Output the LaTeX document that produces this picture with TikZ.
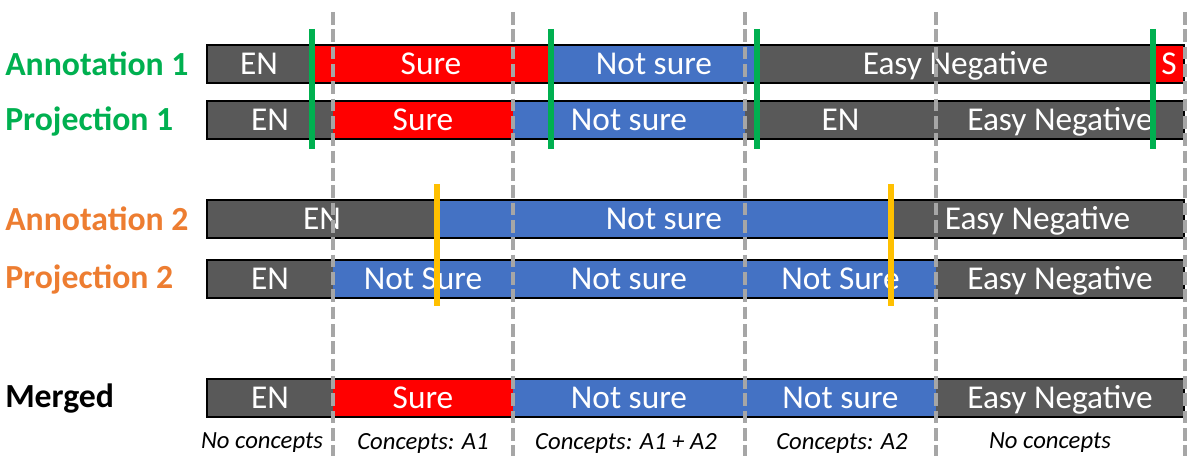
\documentclass[tikz,border=0pt]{standalone}
\usepackage{fontspec}
\setmainfont{Carlito}
\definecolor{engray}{HTML}{595959}
\definecolor{surered}{HTML}{FF0000}
\definecolor{nsblue}{HTML}{4472C4}
\definecolor{mgreen}{HTML}{00B050}
\definecolor{torange}{HTML}{ED7D31}
\definecolor{morange}{HTML}{FFC000}
\definecolor{dashgray}{HTML}{A6A6A6}
\tikzset{
  segbox/.style={inner sep=0pt, outer sep=0pt, text=white, font=\fontsize{25}{30}\selectfont, text height=16.2pt, text depth=0pt, align=center},
  barline/.style={draw=black, line width=1.9pt},
  sepline/.style={draw=dashgray, line width=2.8pt, dash pattern=on 9.5pt off 3.5pt},
  mark1/.style={draw=mgreen, line width=5pt},
  mark2/.style={draw=morange, line width=5pt},
  rowlabel/.style={anchor=west, inner sep=0pt, font=\fontsize{25.3}{30}\selectfont\bfseries},
  note/.style={inner sep=0pt, font=\fontsize{18.5}{22}\selectfont\itshape}
}
\newcommand\segm[7]{%
  \pgfmathsetmacro\segw{(#3-#2)*0.75}%
  \pgfmathsetmacro\segh{(#5-#4)*0.75}%
  \node[segbox, fill=#6, minimum width=\segw pt, minimum height=\segh pt, anchor=north west] (#1) at (#2,#4) {#7};}
\begin{document}
\begin{tikzpicture}[x=0.75pt,y=-0.75pt]
\useasboundingbox (0,0) rectangle (1196,467);
% row labels
\node[rowlabel, text=mgreen] (la1) at (5,64) {Annotation 1};
\node[rowlabel, text=mgreen] (lp1) at (5,121) {Projection 1};
\node[rowlabel, text=torange] (la2) at (5,219) {Annotation 2};
\node[rowlabel, text=torange] (lp2) at (5,279) {Projection 2};
\node[rowlabel, text=black] (lm) at (5,399) {Merged};
% Annotation 1
\segm{a1s1}{207}{311}{45}{83}{engray}{EN}
\segm{a1s2}{311}{551}{45}{83}{surered}{Sure}
\segm{a1s3}{551}{757}{45}{83}{nsblue}{Not sure}
\segm{a1s4}{757}{1154}{45}{83}{engray}{Easy Negative}
\segm{a1s5}{1154}{1184}{45}{83}{surered}{S}
\draw[barline] (a1s1.north west) rectangle (a1s5.south east);
% Projection 1
\segm{p1s1}{207}{333}{101}{139}{engray}{EN}
\segm{p1s2}{333}{513}{101}{139}{surered}{Sure}
\segm{p1s3}{513}{745}{101}{139}{nsblue}{Not sure}
\segm{p1s4}{745}{936}{101}{139}{engray}{EN}
\segm{p1s5}{936}{1184}{101}{139}{engray}{Easy Negative}
\draw[barline] (p1s1.north west) rectangle (p1s5.south east);
% Annotation 2
\segm{a2s1}{207}{437}{200}{238}{engray}{EN}
\segm{a2s2}{437}{891}{200}{238}{nsblue}{Not sure}
\segm{a2s3}{891}{1184}{200}{238}{engray}{Easy Negative}
\draw[barline] (a2s1.north west) rectangle (a2s3.south east);
% Projection 2
\segm{p2s1}{207}{333}{260}{298}{engray}{EN}
\segm{p2s2}{333}{513}{260}{298}{nsblue}{Not Sure}
\segm{p2s3}{513}{745}{260}{298}{nsblue}{Not sure}
\segm{p2s4}{745}{936}{260}{298}{nsblue}{Not Sure}
\segm{p2s5}{936}{1184}{260}{298}{engray}{Easy Negative}
\draw[barline] (p2s1.north west) rectangle (p2s5.south east);
% Merged
\segm{ms1}{207}{333}{379}{417}{engray}{EN}
\segm{ms2}{333}{513}{379}{417}{surered}{Sure}
\segm{ms3}{513}{745}{379}{417}{nsblue}{Not sure}
\segm{ms4}{745}{936}{379}{417}{nsblue}{Not sure}
\segm{ms5}{936}{1184}{379}{417}{engray}{Easy Negative}
\draw[barline] (ms1.north west) rectangle (ms5.south east);
% notes
\node[note] (n1) at (262,443) {No concepts};
\node[note] (n2) at (423,443) {Concepts: A1};
\node[note] (n3) at (626,443) {Concepts: A1 + A2};
\node[note] (n4) at (842,443) {Concepts: A2};
\node[note] (n5) at (1050,443) {No concepts};
% dashed separators
\foreach \xx [count=\i] in {333,513,745,936,1185}{
  \coordinate (dt\i) at (\xx,12);
  \coordinate (db\i) at (\xx,456);
  \draw[sepline] (dt\i) -- (db\i);
}
% green marks
\foreach \xx [count=\i] in {312,551,757,1153}{
  \coordinate (gt\i) at (\xx,29);
  \coordinate (gb\i) at (\xx,149);
  \draw[mark1] (gt\i) -- (gb\i);
}
% orange marks
\foreach \xx [count=\i] in {437,891}{
  \coordinate (ot\i) at (\xx,184);
  \coordinate (ob\i) at (\xx,306);
  \draw[mark2] (ot\i) -- (ob\i);
}
\end{tikzpicture}
\end{document}
